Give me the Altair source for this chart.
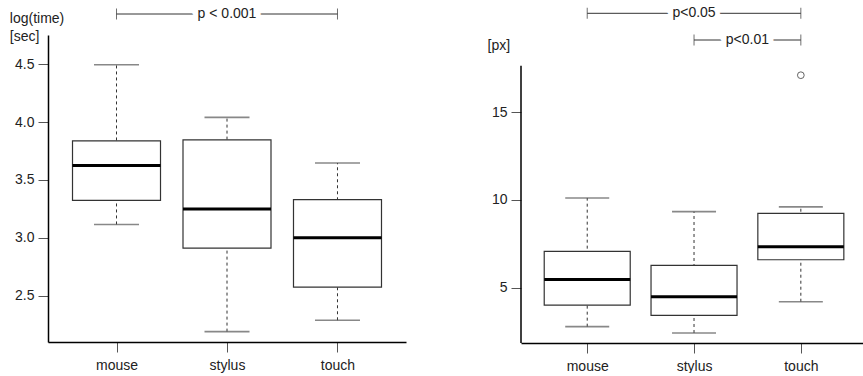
import json
import altair as alt
import pandas as pd

# ---- data ----
categories = ["mouse", "stylus", "touch"]

time_lo = [3.115, 2.188, 2.286]
time_q1 = [3.324, 2.910, 2.572]
time_med = [3.625, 3.249, 3.000]
time_q3 = [3.838, 3.847, 3.330]
time_hi = [4.497, 4.041, 3.647]

px_lo = [2.78, 2.42, 4.20]
px_q1 = [4.01, 3.42, 6.59]
px_med = [5.47, 4.49, 7.33]
px_q3 = [7.07, 6.27, 9.23]
px_hi = [10.11, 9.33, 9.60]

px_outlier_cat = ["touch"]
px_outlier_val = [17.1]

time_ticks = [2.5, 3.0, 3.5, 4.0, 4.5]
px_ticks = [5, 10, 15]

time_brackets = [("mouse", "touch", "p < 0.001")]
px_brackets = [("mouse", "touch", "p<0.05"), ("stylus", "touch", "p<0.01")]

FONT = "Liberation Sans"
TXT = "#222222"


def box_df(lo, q1, med, q3, hi):
    return pd.DataFrame({
        "cat": categories,
        "idx": [i + 1 for i in range(len(categories))],
        "lo": lo, "q1": q1, "med": med, "q3": q3, "hi": hi,
    })


def panel(df, width, height, xdom, ydom, yvals, yfmt, title, tx, ty,
          box_w, cap_w, brackets, bracket_y, outliers=None, axis_top=None):
    label_expr = json.dumps(categories) + "[datum.value - 1]"
    xenc = alt.X("idx:Q", scale=alt.Scale(domain=xdom, nice=False, zero=False, padding=0),
                 axis=alt.Axis(values=[1, 2, 3], labelExpr=label_expr, title=None,
                               grid=False, tickSize=10, labelPadding=6))
    yaxis = alt.Axis(values=yvals, format=yfmt, grid=False, tickSize=10, labelPadding=4,
                     title=title, titleAngle=0, titleAlign="left",
                     titleBaseline="alphabetic", titleX=tx, titleY=ty,
                     titleFont=FONT, titleFontSize=14, titleFontWeight="normal",
                     titleColor=TXT, titleLineHeight=18,
                     domain=axis_top is None)
    yscale = alt.Scale(domain=ydom, nice=False, zero=False, padding=0)

    base = alt.Chart(df)
    whisk = base.mark_rule(color="#333333", strokeDash=[3, 3], strokeWidth=1).encode(
        x=xenc, y=alt.Y("lo:Q", scale=yscale, axis=yaxis), y2="hi:Q")
    cap_lo = base.mark_tick(orient="horizontal", size=cap_w, thickness=1.6,
                            color="#555555").encode(x="idx:Q", y="lo:Q")
    cap_hi = base.mark_tick(orient="horizontal", size=cap_w, thickness=1.6,
                            color="#555555").encode(x="idx:Q", y="hi:Q")
    box = base.mark_bar(size=box_w, fill="white", stroke="#333333",
                        strokeWidth=1.2).encode(x="idx:Q", y="q1:Q", y2="q3:Q")
    med = base.mark_tick(orient="horizontal", size=box_w, thickness=3,
                         color="black", opacity=1).encode(x="idx:Q", y="med:Q")
    layers = [whisk, cap_lo, cap_hi, box, med]

    if outliers is not None:
        layers.append(alt.Chart(outliers).mark_point(
            shape="circle", filled=False, size=45, color="#222222", strokeWidth=1
        ).encode(x="idx:Q", y="val:Q"))

    if axis_top is not None:
        layers.append(alt.Chart(pd.DataFrame({"k": [0]})).mark_rule(
            color="black", strokeWidth=1.5).encode(
            x=alt.value(0), y=alt.value(axis_top), y2=alt.value(height)))

    for (a, b, lab), yb in zip(brackets, bracket_y):
        ia, ib = categories.index(a) + 1, categories.index(b) + 1
        bdf = pd.DataFrame({"a": [ia], "b": [ib], "lab": [lab]})
        bc = alt.Chart(bdf)
        layers.append(bc.mark_rule(color="#333333", strokeWidth=1).encode(
            x="a:Q", x2="b:Q", y=alt.value(yb)))
        for end in ["a", "b"]:
            layers.append(bc.mark_tick(orient="vertical", size=11, thickness=1,
                                       color="#333333").encode(
                x=f"{end}:Q", y=alt.value(yb)))
        mid = bc.transform_calculate(m="(datum.a + datum.b) / 2")
        layers.append(mid.mark_text(font=FONT, fontSize=14, color="white", stroke="white",
                                    strokeWidth=10, baseline="middle").encode(
            x="m:Q", y=alt.value(yb), text="lab:N"))
        layers.append(mid.mark_text(font=FONT, fontSize=14, color=TXT,
                                    baseline="middle").encode(
            x="m:Q", y=alt.value(yb), text="lab:N"))

    return alt.layer(*layers).properties(width=width, height=height)


time_df = box_df(time_lo, time_q1, time_med, time_q3, time_hi)
px_df = box_df(px_lo, px_q1, px_med, px_q3, px_hi)
out_df = pd.DataFrame({"idx": [categories.index(c) + 1 for c in px_outlier_cat],
                       "val": px_outlier_val})

left = panel(time_df, 358, 307, [0.38, 3.62], [2.098, 4.754], time_ticks, ".1f",
             ["log(time)", "[sec]"], -38.7, -13, 88, 45,
             time_brackets, [-21])
right = panel(px_df, 342, 308, [0.38, 3.582], [1.85, 19.39], px_ticks, "d",
              ["[px]"], -34, 14, 86, 44,
              px_brackets, [-21.7, 5], outliers=out_df, axis_top=30.7)

chart = alt.hconcat(left, right, spacing=115, bounds="flush").properties(
    padding={"left": 9, "top": 6, "right": 0, "bottom": 0}
).configure_view(stroke=None).configure_axis(
    domainColor="black", domainWidth=1.5, tickColor="#555555", tickWidth=1,
    labelFont=FONT, labelFontSize=14, labelColor=TXT
)

chart.save("out.html", embed_options={"renderer": "svg", "actions": False})
